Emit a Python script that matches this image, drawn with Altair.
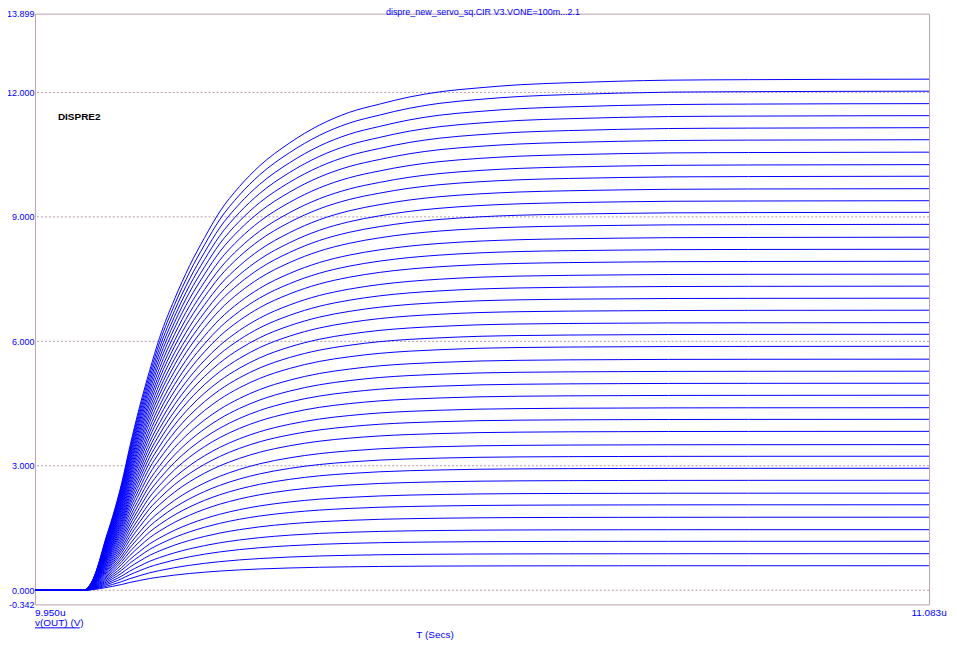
import altair as alt
import pandas as pd

chart_title = "dispre_new_servo_sq.CIR V3.VONE=100m...2.1"
trace_name = "DISPRE2"
y_title = "v(OUT) (V)"
x_title = "T (Secs)"

x_ticks = [9.950, 11.083]
x_tick_labels = ["9.950u", "11.083u"]
y_ticks = [-0.342, 0.0, 3.0, 6.0, 9.0, 12.0, 13.899]
y_grid = [0.0, 3.0, 6.0, 9.0, 12.0]

# sample times (microseconds)
time_us = [9.950, 10.013, 10.0196, 10.0259, 10.0322, 10.0385, 10.0486, 10.0600,
           10.0701, 10.0828, 10.0954, 10.1081, 10.1270, 10.1460, 10.1650, 10.1839,
           10.2092, 10.2345, 10.2725, 10.3104, 10.3483, 10.3863, 10.4242, 10.4621,
           10.5127, 10.5633, 10.6265, 10.6898, 10.7530, 10.8542, 11.083]
# fraction of the final value reached at each sample time:
shape_top = [0.0, 0.0, 0.01, 0.03, 0.06, 0.095, 0.145, 0.21,
             0.28, 0.36, 0.43, 0.495, 0.57, 0.635, 0.69, 0.74,
             0.79, 0.83, 0.875, 0.91, 0.935, 0.951, 0.965, 0.975,
             0.983, 0.989, 0.993, 0.996, 0.998, 0.999, 1.0]
shape_mid = [0.0, 0.0, 0.012, 0.035, 0.065, 0.10, 0.16, 0.235,
             0.315, 0.40, 0.478, 0.539, 0.618, 0.683, 0.737, 0.782,
             0.830, 0.868, 0.909, 0.938, 0.957, 0.971, 0.980, 0.986,
             0.992, 0.995, 0.997, 0.998, 0.999, 0.9995, 1.0]
# value of each stepped run at the right edge (V)
final_values = [0.59, 0.88, 1.18, 1.46, 1.76, 2.06, 2.34, 2.65, 2.94, 3.23,
                3.51, 3.83, 4.12, 4.40, 4.70, 4.99, 5.28, 5.57, 5.88, 6.17,
                6.45, 6.75, 7.04, 7.33, 7.62, 7.93, 8.22, 8.51, 8.82, 9.11,
                9.39, 9.68, 9.98, 10.26, 10.56, 10.86, 11.15, 11.44, 11.73, 12.03,
                12.32]

n_runs = len(final_values)
half = (n_runs - 1) / 2
rows = []
for k, F in enumerate(final_values):
    w = max(0.0, (k - half) / half)
    for i, t in enumerate(time_us):
        frac = shape_mid[i] * (1 - w) + shape_top[i] * w
        rows.append({"t": t, "v": round(F * frac, 4), "run": k})
curves = pd.DataFrame(rows)

FONT = "Liberation Sans"
BLUE = "#0000ff"
XS = alt.Scale(domain=[9.950, 11.083], nice=False, zero=False)
YS = alt.Scale(domain=[-0.342, 13.899], nice=False, zero=False)

y_axis = alt.Axis(
    values=y_ticks,
    labelExpr="datum.value < 0 ? '-' + format(-datum.value, '.3f') : format(datum.value, '.3f')",
    labelColor=BLUE, labelFont=FONT, labelFontSize=9,
    ticks=False, domain=False, grid=False,
    labelPadding=1, labelFlush=False, labelOverlap=False, title=None,
)

grid = alt.Chart(pd.DataFrame({"g": y_grid})).mark_rule(
    color="#b898a8", strokeDash=[2, 2], strokeWidth=1
).encode(y=alt.Y("g:Q", scale=YS, axis=y_axis))

lines = alt.Chart(curves).mark_line(
    color=BLUE, strokeWidth=1, interpolate="monotone", clip=True
).encode(
    x=alt.X("t:Q", scale=XS, axis=None),
    y=alt.Y("v:Q", scale=YS, axis=y_axis),
    detail="run:N",
)

xlab = pd.DataFrame({"x": x_ticks, "label": x_tick_labels})
xl_left = alt.Chart(xlab).transform_filter(alt.datum.x < 10.5).mark_text(
    align="left", baseline="middle", font=FONT, fontSize=10, color=BLUE
).encode(x=alt.X("x:Q", scale=XS, axis=None), y=alt.value(601), text="label:N")
xl_right = alt.Chart(xlab).transform_filter(alt.datum.x > 10.5).mark_text(
    align="center", baseline="middle", font=FONT, fontSize=10, color=BLUE
).encode(x=alt.X("x:Q", scale=XS, axis=None), y=alt.value(601), text="label:N")

title = alt.Chart(pd.DataFrame({"s": [chart_title]})).mark_text(
    align="center", baseline="alphabetic", font=FONT, fontSize=9, color=BLUE
).encode(x=alt.value(449), y=alt.value(1.8), text="s:N")

trace = alt.Chart(pd.DataFrame({"s": [trace_name]})).mark_text(
    align="left", baseline="middle", font=FONT, fontSize=10, fontWeight="bold", color="#000000"
).encode(x=alt.value(23), y=alt.value(104), text="s:N")

ytitle = alt.Chart(pd.DataFrame({"s": [y_title]})).mark_text(
    align="left", baseline="middle", font=FONT, fontSize=10, color=BLUE
).encode(x=alt.value(0), y=alt.value(611), text="s:N")

underline = alt.Chart(pd.DataFrame({"a": [0]})).mark_rule(color=BLUE, strokeWidth=1).encode(
    x=alt.value(0), x2=alt.value(45), y=alt.value(615.5)
)

xtitle = alt.Chart(pd.DataFrame({"s": [x_title]})).mark_text(
    align="center", baseline="middle", font=FONT, fontSize=10, color=BLUE
).encode(x=alt.value(401), y=alt.value(623), text="s:N")

chart = alt.layer(
    grid, lines, xl_left, xl_right, title, trace, ytitle, underline, xtitle
).properties(
    width=896, height=592,
    padding={"left": 27, "top": 5, "right": 20, "bottom": 38},
    autosize=alt.AutoSizeParams(type="none"),
).configure_view(stroke="#c0a0b0", strokeWidth=1)

chart.save("out.html", embed_options={"renderer": "svg", "actions": False})
